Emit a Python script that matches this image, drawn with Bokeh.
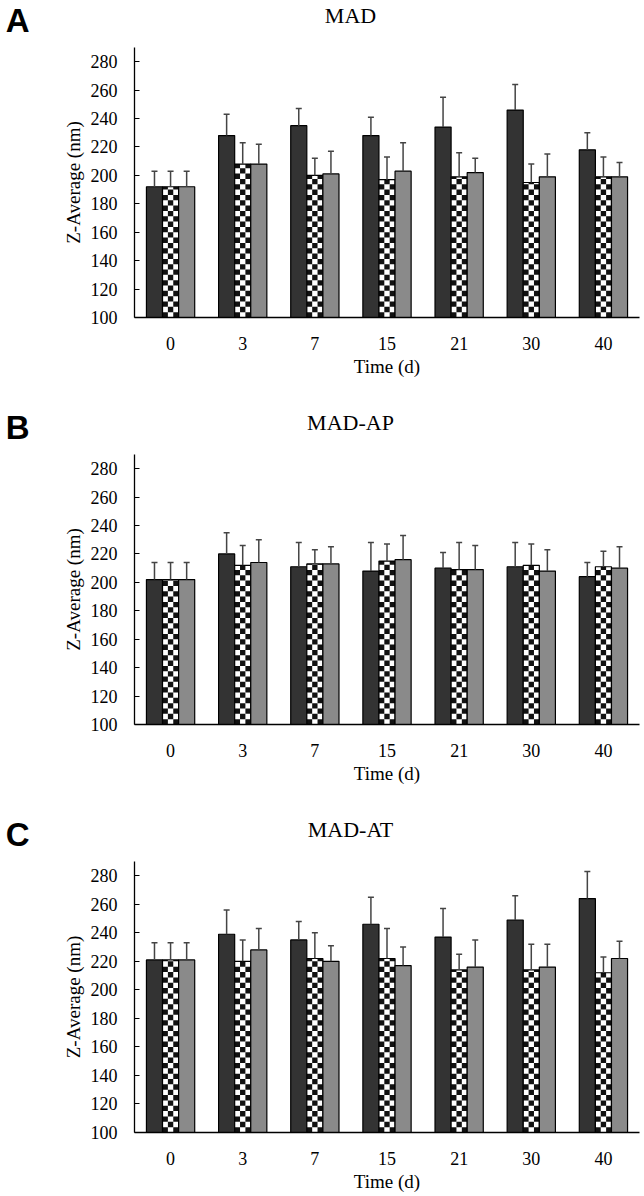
import numpy as np
from bokeh.plotting import figure
from bokeh.models import FactorRange, Range1d, ColumnDataSource, FixedTicker, LinearAxis
from bokeh.transform import dodge
from bokeh.layouts import column
from bokeh.embed import file_html
from bokeh.resources import INLINE
from bokeh.core.properties import value

days = ["0", "3", "7", "15", "21", "30", "40"]
y_ticks = [100, 120, 140, 160, 180, 200, 220, 240, 260, 280]

# Panel A: MAD
A_dark = [192, 228, 235, 228, 234, 246, 218]
A_dark_err = [11, 15, 12, 13, 21, 18, 12]
A_check = [192, 208, 200, 197, 199, 195, 199]
A_check_err = [11, 15, 12, 16, 17, 13, 14]
A_gray = [192, 208, 201, 203, 202, 199, 199]
A_gray_err = [11, 14, 16, 20, 10, 16, 10]

# Panel B: MAD-AP
B_dark = [202, 220, 211, 208, 210, 211, 204]
B_dark_err = [12, 15, 17, 20, 11, 17, 10]
B_check = [202, 212, 213, 215, 209, 212, 211]
B_check_err = [12, 14, 10, 12, 19, 15, 11]
B_gray = [202, 214, 213, 216, 209, 208, 210]
B_gray_err = [12, 16, 12, 17, 17, 15, 15]

# Panel C: MAD-AT
C_dark = [221, 239, 235, 246, 237, 249, 264]
C_dark_err = [12, 17, 13, 19, 20, 17, 19]
C_check = [221, 220, 222, 222, 214, 214, 212]
C_check_err = [12, 15, 18, 21, 11, 18, 11]
C_gray = [221, 228, 220, 217, 216, 216, 222]
C_gray_err = [12, 15, 11, 13, 19, 16, 12]

SERIF = "Liberation Serif"
W = 644
LEFT = 134
RIGHT = 5
BW = 0.223
OFFS = [-BW, 0.0, BW]
CELL_H = 3.75
BASE = 100
HEADER_H = 47


def make_header(letter, title):
    # frame covers page x LEFT..W-RIGHT; x data = page pixels
    h = figure(width=W, height=HEADER_H, x_range=Range1d(LEFT, W - RIGHT), y_range=Range1d(HEADER_H, 0),
               min_border_left=LEFT, min_border_right=RIGHT, min_border_top=0, min_border_bottom=0,
               x_axis_location=None, y_axis_location=None,
               output_backend="svg", toolbar_location=None)
    h.outline_line_color = None
    h.xgrid.grid_line_color = None
    h.ygrid.grid_line_color = None
    h.text(x=[350], y=[15], text=[title], text_align="center", text_baseline="middle",
           text_font=value(SERIF), text_font_size="22px", text_color="black")
    # panel letter as a left-axis label placed far left of the frame
    ax = LinearAxis(ticker=FixedTicker(ticks=[17]), major_label_overrides={17: letter})
    ax.axis_line_color = None
    ax.major_tick_line_color = None
    ax.minor_tick_line_color = None
    ax.major_tick_in = 0
    ax.major_tick_out = 0
    ax.major_label_standoff = LEFT - 29
    ax.major_label_text_font = "Liberation Sans"
    ax.major_label_text_font_style = "bold"
    ax.major_label_text_font_size = "33px"
    ax.major_label_text_color = "black"
    h.add_layout(ax, "left")
    return h


def make_panel(dark, dark_err, check, check_err, gray, gray_err, height, bottom_border):
    p = figure(x_range=FactorRange(*days), y_range=Range1d(100, 290),
               width=W, height=height,
               min_border_left=LEFT, min_border_right=RIGHT,
               min_border_top=0, min_border_bottom=bottom_border,
               output_backend="svg", toolbar_location=None)
    p.outline_line_color = None
    p.xgrid.grid_line_color = None
    p.ygrid.grid_line_color = None

    src = ColumnDataSource(dict(day=days, dark=dark, dark_top=[v + e for v, e in zip(dark, dark_err)],
                                check=check, check_top=[v + e for v, e in zip(check, check_err)],
                                gray=gray, gray_top=[v + e for v, e in zip(gray, gray_err)]))

    p.vbar(x=dodge("day", OFFS[0], range=p.x_range), bottom=BASE, top="dark", width=BW,
           source=src, fill_color="#333333", line_color="black", line_width=1.2)
    p.vbar(x=dodge("day", OFFS[1], range=p.x_range), bottom=BASE, top="check", width=BW,
           source=src, fill_color="white", line_color=None)
    cw = BW / 3.0
    for c in range(3):
        cd, cy, ch = [], [], []
        for d, v in zip(days, check):
            n = int(np.ceil((v - BASE) / CELL_H))
            for r in range(n):
                if (r + c) % 2 == 0:
                    y0 = BASE + r * CELL_H
                    y1 = min(y0 + CELL_H, v)
                    cd.append(d)
                    cy.append((y0 + y1) / 2)
                    ch.append(y1 - y0)
        csrc = ColumnDataSource(dict(day=cd, y=cy, h=ch))
        p.rect(x=dodge("day", OFFS[1] + (c - 1) * cw, range=p.x_range), y="y",
               width=cw, height="h", source=csrc, fill_color="#111111", line_color=None)
    p.vbar(x=dodge("day", OFFS[1], range=p.x_range), bottom=BASE, top="check", width=BW,
           source=src, fill_color=None, line_color="black", line_width=1.2)
    p.vbar(x=dodge("day", OFFS[2], range=p.x_range), bottom=BASE, top="gray", width=BW,
           source=src, fill_color="#8a8a8a", line_color="black", line_width=1.2)

    for off, lo, hi in zip(OFFS, ["dark", "check", "gray"], ["dark_top", "check_top", "gray_top"]):
        xx = dodge("day", off, range=p.x_range)
        p.segment(x0=xx, y0=lo, x1=xx, y1=hi, source=src, line_color="#444444", line_width=1.5)
        p.scatter(x=xx, y=hi, source=src, marker="dash", size=6, line_color="#444444", line_width=1.5)

    p.yaxis.ticker = FixedTicker(ticks=y_ticks)
    p.yaxis.major_tick_in = 5
    p.yaxis.major_tick_out = 0
    p.yaxis.minor_tick_line_color = None
    p.yaxis.major_label_standoff = 17
    p.yaxis.axis_label = "Z-Average (nm)"
    p.yaxis.axis_label_standoff = 4
    p.xaxis.minor_tick_line_color = None
    p.xaxis.major_label_standoff = 13
    p.xaxis.axis_label = "Time (d)"
    p.xaxis.axis_label_standoff = 3
    for ax in (p.xaxis, p.yaxis):
        ax.axis_line_color = "black"
        ax.axis_line_width = 1.3
        ax.major_tick_line_width = 1.2
        ax.major_label_text_font = SERIF
        ax.major_label_text_font_size = "18px"
        ax.major_label_text_color = "black"
        ax.axis_label_text_font = SERIF
        ax.axis_label_text_font_size = "19px"
        ax.axis_label_text_font_style = "normal"
        ax.axis_label_text_color = "black"
    p.yaxis.major_tick_line_color = "black"
    p.xaxis.major_tick_line_color = None
    return p


ha = make_header("A", "MAD")
pa = make_panel(A_dark, A_dark_err, A_check, A_check_err, A_gray, A_gray_err, 360, 90)
hb = make_header("B", "MAD-AP")
pb = make_panel(B_dark, B_dark_err, B_check, B_check_err, B_gray, B_gray_err, 360, 90)
hc = make_header("C", "MAD-AT")
pc = make_panel(C_dark, C_dark_err, C_check, C_check_err, C_gray, C_gray_err, 335, 64)

layout = column(ha, pa, hb, pb, hc, pc, spacing=0)
open("out.html", "w").write(file_html(layout, INLINE))
